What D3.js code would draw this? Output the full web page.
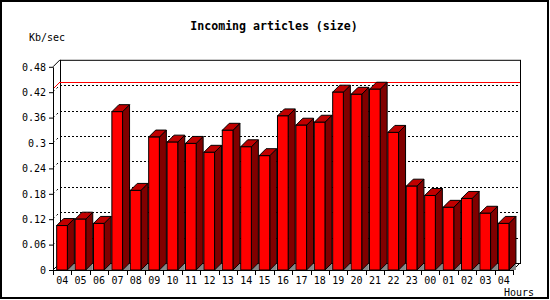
<!DOCTYPE html>
<html>
<head>
<meta charset="utf-8">
<script src="https://cdn.jsdelivr.net/npm/d3@7"></script>
<style>
  body { margin: 0; background: #fff; }
  svg { display: block; }
</style>
</head>
<body>
<div id="chart"></div>
<script>
// Incoming articles (size), Kb/sec per hour
const hours = ["04", "05", "06", "07", "08", "09", "10", "11", "12", "13", "14", "15",
  "16", "17", "18", "19", "20", "21", "22", "23", "00", "01", "02", "03", "04"];
const sizes = [0.105, 0.120, 0.110, 0.374, 0.188, 0.314, 0.302, 0.299, 0.278, 0.330, 0.291, 0.270,
  0.364, 0.342, 0.349, 0.420, 0.415, 0.427, 0.325, 0.198, 0.176, 0.148, 0.169, 0.134, 0.110];
const yTicks = [0, 0.06, 0.12, 0.18, 0.24, 0.3, 0.36, 0.42, 0.48];

const width = 550, height = 300;
const depth = 7;       // 3d offset of the back wall
const barDepth = 7;    // 3d offset of each bar
const x0 = 53, x1 = 513, yBase = 270;

const svg = d3.select("#chart").append("svg")
  .attr("width", width)
  .attr("height", height);

// outer frame
svg.append("rect")
  .attr("x", 1).attr("y", 1)
  .attr("width", 547).attr("height", 297)
  .attr("fill", "#fff")
  .attr("stroke", "#000")
  .attr("stroke-width", 2);

const x = d3.scaleBand()
  .domain(d3.range(hours.length))
  .range([x0, x1]);

const y = d3.scaleLinear()
  .domain([0, 0.48])
  .range([yBase, 66.8]);

const yTop = y(0.48);

// title and axis captions
svg.append("text")
  .attr("x", 274).attr("y", 30)
  .attr("text-anchor", "middle")
  .attr("font-family", "DejaVu Sans Mono")
  .attr("font-weight", "bold")
  .attr("font-size", "11.6px")
  .text("Incoming articles (size)");

svg.append("text")
  .attr("x", 29).attr("y", 40.5)
  .attr("font-family", "DejaVu Sans Mono")
  .attr("font-size", "10px")
  .text("Kb/sec");

svg.append("text")
  .attr("x", 504).attr("y", 295.5)
  .attr("font-family", "DejaVu Sans Mono")
  .attr("font-size", "10px")
  .text("Hours");

// back wall
svg.append("rect")
  .attr("x", x0 + depth + 0.5).attr("y", yTop - depth + 0.5)
  .attr("width", x1 - x0)
  .attr("height", yBase - yTop)
  .attr("fill", "none")
  .attr("stroke", "#000");

// dotted grid on back wall and left wall
const grid = yTicks.filter(t => t > 0 && t < 0.48);
svg.append("g").selectAll("line.back")
  .data(grid)
  .join("line")
  .attr("x1", x0 + depth).attr("x2", x1 + depth)
  .attr("y1", d => Math.round(y(d)) - depth + 0.5)
  .attr("y2", d => Math.round(y(d)) - depth + 0.5)
  .attr("stroke", "#000")
  .attr("stroke-dasharray", "2,2");

svg.append("g").selectAll("line.side")
  .data(grid)
  .join("line")
  .attr("x1", x0).attr("x2", x0 + depth)
  .attr("y1", d => Math.round(y(d)))
  .attr("y2", d => Math.round(y(d)) - depth)
  .attr("stroke", "#000")
  .attr("stroke-dasharray", "2,3");

// red line at the maximum
const maxVal = d3.max(sizes);
const yMax = Math.round(y(maxVal));
svg.append("line")
  .attr("x1", x0 + depth).attr("x2", x1 + depth)
  .attr("y1", yMax - depth + 0.5).attr("y2", yMax - depth + 0.5)
  .attr("stroke", "#f00");
svg.append("line")
  .attr("x1", x0).attr("x2", x0 + depth)
  .attr("y1", yMax).attr("y2", yMax - depth)
  .attr("stroke", "#f00");

// left wall and floor edges
svg.append("line")
  .attr("x1", x0).attr("y1", yTop)
  .attr("x2", x0 + depth).attr("y2", yTop - depth)
  .attr("stroke", "#000");
svg.append("line")
  .attr("x1", x0).attr("y1", yBase)
  .attr("x2", x0 + depth).attr("y2", yBase - depth)
  .attr("stroke", "#000");
svg.append("line")
  .attr("x1", x1).attr("y1", yBase)
  .attr("x2", x1 + depth).attr("y2", yBase - depth)
  .attr("stroke", "#000");

// bars
const bw = x.bandwidth();
const bars = svg.append("g").selectAll("g")
  .data(sizes)
  .join("g");

const left = (d, i) => x(i) + bw * 0.2;
const right = (d, i) => x(i) + bw * 0.2 + bw * 0.58;

// floor shade triangle beside each bar
bars.append("path")
  .attr("fill", "#888")
  .attr("d", (d, i) => {
    const r = right(d, i);
    return `M${r},${yBase}L${r + barDepth},${yBase - barDepth}L${r + barDepth},${yBase}Z`;
  });

// side face
bars.append("path")
  .attr("fill", "#800000")
  .attr("stroke", "#000")
  .attr("stroke-linejoin", "round")
  .attr("d", (d, i) => {
    const r = right(d, i), t = y(d);
    return `M${r},${t}L${r + barDepth},${t - barDepth}L${r + barDepth},${yBase - barDepth}L${r},${yBase}Z`;
  });

// top face
bars.append("path")
  .attr("fill", "#c00000")
  .attr("stroke", "#000")
  .attr("stroke-linejoin", "round")
  .attr("d", (d, i) => {
    const l = left(d, i), r = right(d, i), t = y(d);
    return `M${l},${t}L${l + barDepth},${t - barDepth}L${r + barDepth},${t - barDepth}L${r},${t}Z`;
  });

// front face
bars.append("rect")
  .attr("x", (d, i) => left(d, i))
  .attr("y", d => y(d))
  .attr("width", bw * 0.58)
  .attr("height", d => yBase - y(d))
  .attr("fill", "#f00")
  .attr("stroke", "#000");

// y axis
const yAxis = svg.append("g")
  .attr("transform", `translate(${x0},0)`)
  .call(d3.axisLeft(y)
    .tickValues(yTicks)
    .tickFormat(d => String(d))
    .tickSize(4)
    .tickSizeOuter(0)
    .tickPadding(3));
yAxis.select(".domain").attr("stroke", "#000");
yAxis.selectAll("text")
  .attr("font-family", "DejaVu Sans Mono")
  .attr("font-size", "10px")
  .attr("fill", "#000");

// x axis: labels centred, ticks on band edges
const xAxis = svg.append("g")
  .attr("transform", `translate(0,${yBase})`)
  .call(d3.axisBottom(x)
    .tickFormat(i => hours[i])
    .tickSize(0)
    .tickPadding(7));
xAxis.select(".domain").remove();
xAxis.selectAll("text")
  .attr("font-family", "DejaVu Sans Mono")
  .attr("font-size", "10px")
  .attr("fill", "#000");

svg.append("line")
  .attr("x1", x0).attr("x2", x1)
  .attr("y1", yBase + 0.5).attr("y2", yBase + 0.5)
  .attr("stroke", "#000");

svg.append("g").selectAll("line")
  .data(d3.range(hours.length + 1))
  .join("line")
  .attr("x1", i => Math.round(x0 + i * bw) + 0.5)
  .attr("x2", i => Math.round(x0 + i * bw) + 0.5)
  .attr("y1", yBase).attr("y2", yBase + 5)
  .attr("stroke", "#000");
</script>
</body>
</html>
